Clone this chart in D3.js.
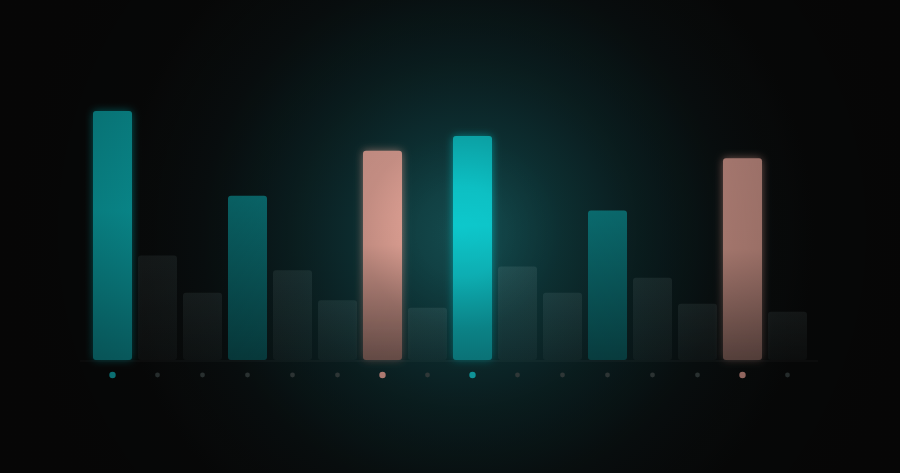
<!DOCTYPE html>
<html>
<head>
<meta charset="utf-8">
<script src="https://cdn.jsdelivr.net/npm/d3@7"></script>
<style>
  html, body { margin: 0; padding: 0; background: #0a0b0b; }
  svg { display: block; }
</style>
</head>
<body>
<svg id="chart" width="900" height="473"></svg>
<script>
// ---- data ----
const categories = ["P1","P2","P3","P4","P5","P6","P7","P8","P9","P10","P11","P12","P13","P14","P15","P16"];
const values = [100, 42, 27, 66, 36, 24, 84, 21, 90, 37.6, 27, 60, 33, 22.6, 81, 19.4];
const kinds = ["primary","base","base","secondary","base","base","accent","base",
               "primary","base","base","secondary","base","base","accent","base"];

const W = 900, H = 473;
const svg = d3.select("#chart");
const defs = svg.append("defs");

const x = d3.scaleBand().domain(categories).range([90, 810]).paddingInner(0.1333).paddingOuter(0.0667);
const y = d3.scaleLinear().domain([0, 100]).range([360, 111]);

// background
svg.append("rect").attr("width", W).attr("height", H).attr("fill", "#0a0b0b");
const bg = defs.append("radialGradient").attr("id", "bgGlow")
  .attr("gradientUnits", "userSpaceOnUse").attr("cx", 465).attr("cy", 235).attr("r", 350);
[[0, "#144c4f"], [0.25, "#0f393c"], [0.5, "#0c2325"], [0.75, "#0b1213"], [1, "#0a0b0b"]]
  .forEach(([o, c]) => bg.append("stop").attr("offset", o).attr("stop-color", c));
svg.append("rect").attr("width", W).attr("height", H).attr("fill", "url(#bgGlow)");

// gradients for bars
function vgrad(id, stops) {
  const g = defs.append("linearGradient").attr("id", id).attr("x1", 0).attr("y1", 0).attr("x2", 0).attr("y2", 1);
  stops.forEach(([o, c, a]) => g.append("stop").attr("offset", o).attr("stop-color", c).attr("stop-opacity", a == null ? 1 : a));
}
vgrad("g-primary", [[0, "#0bbcc0"], [0.4, "#0cc8cc"], [1, "#0a8a8f"]]);
vgrad("g-secondary", [[0, "#0c8084"], [1, "#0a4c4f"]]);
vgrad("g-accent", [[0, "#e6a69a"], [0.45, "#e2a396"], [1, "#7a5b55"]]);
vgrad("g-base", [[0, "#b8d8d8", 0.11], [1, "#b8d8d8", 0.05]]);

const glow = defs.append("filter").attr("id", "glow")
  .attr("x", "-50%").attr("y", "-20%").attr("width", "200%").attr("height", "140%");
glow.append("feGaussianBlur").attr("in", "SourceGraphic").attr("stdDeviation", 4).attr("result", "b");
glow.append("feComponentTransfer").attr("in", "b").attr("result", "b2")
  .append("feFuncA").attr("type", "linear").attr("slope", 0.7);
const m = glow.append("feMerge");
m.append("feMergeNode").attr("in", "b2");
m.append("feMergeNode").attr("in", "SourceGraphic");

// baseline
svg.append("line").attr("x1", 80).attr("x2", 818).attr("y1", 361).attr("y2", 361)
  .attr("stroke", "#ffffff").attr("stroke-opacity", 0.05).attr("stroke-width", 1.5);

const data = categories.map((c, i) => ({ c, v: values[i], k: kinds[i] }));

svg.append("g").selectAll("rect").data(data).join("rect")
  .attr("x", d => x(d.c))
  .attr("y", d => y(d.v))
  .attr("width", x.bandwidth())
  .attr("height", d => y(0) - y(d.v))
  .attr("rx", 3).attr("ry", 3)
  .attr("fill", d => `url(#g-${d.k})`)
  .attr("filter", d => (d.k === "primary" || d.k === "accent") ? "url(#glow)" : null);

const dotColor = { primary: "#12b4ba", accent: "#d8978c", secondary: "#3a4444", base: "#3a4444" };
svg.append("g").selectAll("circle").data(data).join("circle")
  .attr("cx", d => x(d.c) + x.bandwidth() / 2)
  .attr("cy", 375)
  .attr("r", d => (d.k === "primary" || d.k === "accent") ? 3.2 : 2.4)
  .attr("fill", d => dotColor[d.k]);

// vignette overlay (multiplicative darkening away from the spotlight)
const vg = defs.append("radialGradient").attr("id", "vig")
  .attr("gradientUnits", "userSpaceOnUse").attr("cx", 462).attr("cy", 232).attr("r", 450);
[[0, 0], [0.1, 0.02], [0.22, 0.15], [0.45, 0.23], [0.75, 0.35], [1, 0.45]]
  .forEach(([o, a]) => vg.append("stop").attr("offset", o).attr("stop-color", "#000").attr("stop-opacity", a));
svg.append("rect").attr("width", W).attr("height", H).attr("fill", "url(#vig)").attr("pointer-events", "none");
</script>
</body>
</html>
